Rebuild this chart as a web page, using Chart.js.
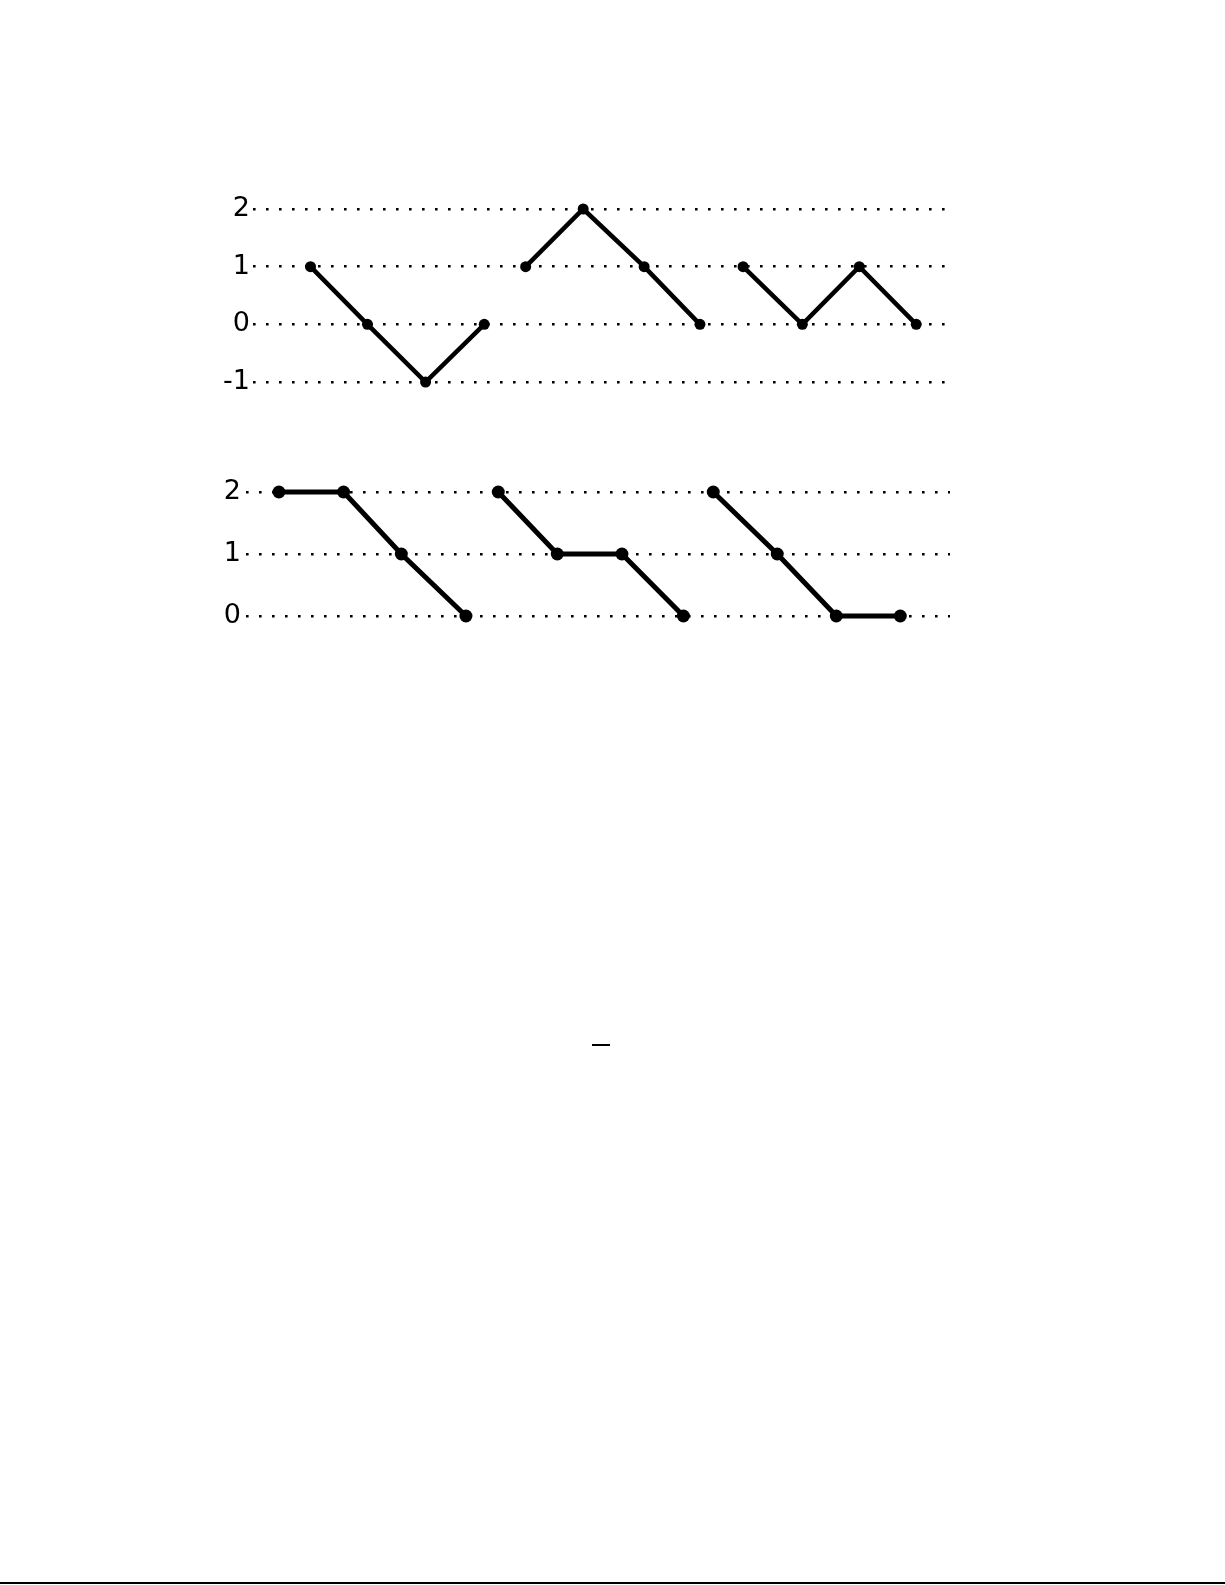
<!DOCTYPE html>
<html>
<head>
<meta charset="utf-8">
<script src="https://cdn.jsdelivr.net/npm/chart.js@4.4.1/dist/chart.umd.min.js"></script>
<style>
  body { margin: 0; background: #fff; width: 1225px; height: 1585px; position: relative; overflow: hidden; }
  .box { position: absolute; left: 0; width: 1225px; }
  #topBox { top: 150px; height: 280px; }
  #bottomBox { top: 440px; height: 240px; }
  .dash { position: absolute; left: 592px; top: 1044px; width: 18px; height: 1.5px; background: #000; }
  .rule { position: absolute; left: 0; top: 1582px; width: 1225px; height: 2px; background: #000; }
</style>
</head>
<body>
<div class="box" id="topBox"><canvas id="topChart" width="1225" height="280"></canvas></div>
<div class="box" id="bottomBox"><canvas id="bottomChart" width="1225" height="240"></canvas></div>
<div class="dash"></div>
<div class="rule"></div>

<script>
// верхний график: три куска пути
const topTicks = [-1, 0, 1, 2];
const topX1 = [1.0, 1.99, 3.0, 4.02];
const topY1 = [1, 0, -1, 0];
const topX2 = [4.74, 5.74, 6.8, 7.77];
const topY2 = [1, 2, 1, 0];
const topX3 = [8.52, 9.55, 10.54, 11.53];
const topY3 = [1, 0, 1, 0];

// нижний график
const bottomTicks = [0, 1, 2];
const bottomX1 = [0.53, 1.57, 2.5, 3.54];
const bottomY1 = [2, 2, 1, 0];
const bottomX2 = [4.06, 5.01, 6.05, 7.04];
const bottomY2 = [2, 1, 1, 0];
const bottomX3 = [7.52, 8.55, 9.5, 10.53];
const bottomY3 = [2, 1, 0, 0];

Chart.defaults.font.family = '"DejaVu Sans", sans-serif';
Chart.defaults.color = '#000';
Chart.defaults.animation = false;

function pts(xs, ys) {
    return xs.map((x, i) => ({ x: x, y: ys[i] }));
}

function segment(xs, ys, width, radius) {
    return {
        data: pts(xs, ys),
        borderColor: '#000',
        backgroundColor: '#000',
        borderWidth: width,
        pointRadius: radius,
        pointBorderWidth: 0,
        pointBackgroundColor: '#000',
        tension: 0,
        clip: false
    };
}

function makeChart(id, segs, ticks, xMax, axisWidth, pad, labelPad) {
    const ctx = document.getElementById(id).getContext('2d');
    return new Chart(ctx, {
        type: 'line',
        data: { datasets: segs },
        options: {
            responsive: false,
            layout: { padding: pad },
            plugins: { legend: { display: false }, tooltip: { enabled: false } },
            scales: {
                x: { type: 'linear', min: 0, max: xMax, display: false },
                y: {
                    min: ticks[0],
                    max: ticks[ticks.length - 1],
                    afterBuildTicks: s => { s.ticks = ticks.map(v => ({ value: v })); },
                    afterFit: s => { s.width = axisWidth; },
                    ticks: { font: { size: 27 }, padding: labelPad, color: '#000' },
                    grid: { color: '#000', lineWidth: 2.6, drawTicks: false },
                    border: { display: false, dash: [2.6, 10.4] }
                }
            }
        }
    });
}

makeChart('topChart', [
    segment(topX1, topY1, 4.5, 5.5),
    segment(topX2, topY2, 4.5, 5.5),
    segment(topX3, topY3, 4.5, 5.5)
], topTicks, 12.03, 253, { top: 59, right: 280, bottom: 48, left: 0 }, 3);

makeChart('bottomChart', [
    segment(bottomX1, bottomY1, 5, 6.5),
    segment(bottomX2, bottomY2, 5, 6.5),
    segment(bottomX3, bottomY3, 5, 6.5)
], bottomTicks, 11.33, 246, { top: 52, right: 275, bottom: 64, left: 0 }, 5);
</script>
</body>
</html>
